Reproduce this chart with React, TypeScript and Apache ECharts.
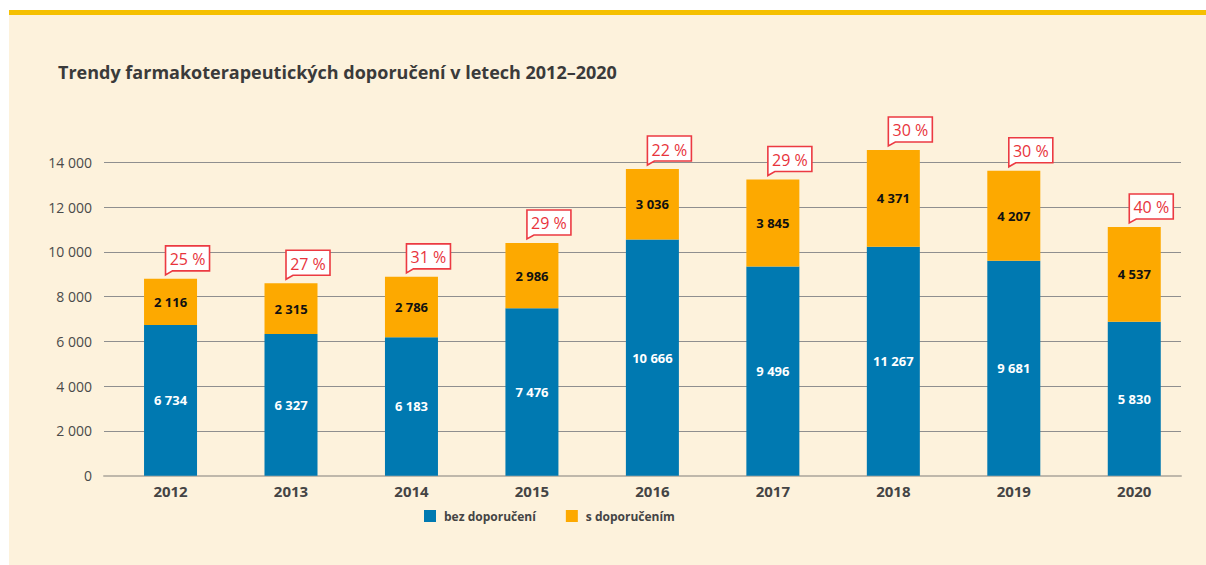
import React, { useEffect, useRef } from "react";
import * as echarts from "echarts";

const categories = ["2012", "2013", "2014", "2015", "2016", "2017", "2018", "2019", "2020"];
// bar heights as drawn in the picture
const bezValues = [6734, 6327, 6183, 7476, 10550, 9350, 10230, 9600, 6880];
const sValues = [2060, 2270, 2700, 2920, 3150, 3880, 4320, 4020, 4230];
// numbers printed on the bars
const bezLabels = ["6 734", "6 327", "6 183", "7 476", "10 666", "9 496", "11 267", "9 681", "5 830"];
const sLabels = ["2 116", "2 315", "2 786", "2 986", "3 036", "3 845", "4 371", "4 207", "4 537"];
const pctLabels = ["25 %", "27 %", "31 %", "29 %", "22 %", "29 %", "30 %", "30 %", "40 %"];
const yTickLabels = ["0", "2 000", "4 000", "6 000", "8 000", "10 000", "12 000", "14 000"];

const FONT = '"Open Sans", "Noto Sans", sans-serif';
const BLUE = "#0079B1";
const ORANGE = "#FDA900";
const RED = "#EC3A42";

export default function App() {
  const ref = useRef<HTMLDivElement>(null);

  useEffect(() => {
    document.body.style.margin = "0";
    if (!ref.current) return;
    const chart = echarts.init(ref.current, undefined, { renderer: "svg" });
    const gridTop = 162.3;
    const gridBottom = 565 - 475.7;
    const option: any = {
      animation: false,
      backgroundColor: "transparent",
      title: {
        text: "Trendy farmakoterapeutických doporučení v letech 2012–2020",
        left: 53,
        top: 58,
        textStyle: { fontFamily: FONT, fontSize: 18, fontWeight: "bold", color: "#3a3a3a" },
      },
      legend: {
        left: 419,
        top: 505,
        icon: "rect",
        itemWidth: 12,
        itemHeight: 12,
        itemGap: 30,
        textStyle: { fontFamily: FONT, fontSize: 12, fontWeight: "bold", color: "#444", padding: [0, 0, 0, 3] },
        data: ["bez doporučení", "s doporučením"],
      },
      grid: [
        { left: 104, right: 25, top: gridTop, bottom: gridBottom, outerBoundsMode: "none", containLabel: false },
        { left: 110.3, right: 11.5, top: gridTop, bottom: gridBottom, outerBoundsMode: "none", containLabel: false },
      ],
      xAxis: [
        {
          type: "category",
          gridIndex: 0,
          data: categories,
          axisLine: { show: true, lineStyle: { color: "#bfb8ab", width: 2 } },
          axisTick: { show: false },
          axisLabel: { show: false },
          splitLine: { show: false },
        },
        {
          type: "category",
          gridIndex: 1,
          data: categories,
          axisLine: { show: false },
          axisTick: { show: false },
          axisLabel: {
            show: true,
            margin: 8,
            fontFamily: FONT,
            fontSize: 15,
            fontWeight: "bold",
            color: "#444",
          },
          splitLine: { show: false },
        },
      ],
      yAxis: [
        {
          type: "value",
          gridIndex: 0,
          min: 0,
          max: 14000,
          interval: 2000,
          axisLine: { show: false },
          axisTick: { show: false },
          axisLabel: {
            margin: 12,
            fontFamily: FONT,
            fontSize: 14,
            color: "#4a4a4a",
            formatter: (v: number) => yTickLabels[Math.round(v / 2000)] ?? "",
          },
          splitLine: { show: true, lineStyle: { color: "#8f8f8f", width: 1 } },
        },
        {
          type: "value",
          gridIndex: 1,
          min: 0,
          max: 14000,
          interval: 2000,
          show: false,
          splitLine: { show: false },
        },
      ],
      series: [
        {
          name: "bez doporučení",
          type: "bar",
          xAxisIndex: 1,
          yAxisIndex: 1,
          stack: "total",
          barWidth: 53,
          clip: false,
          itemStyle: { color: BLUE },
          label: {
            show: true,
            position: "inside",
            formatter: (p: any) => bezLabels[p.dataIndex],
            color: "#fff",
            fontFamily: FONT,
            fontSize: 13,
            fontWeight: "bold",
          },
          data: bezValues,
        },
        {
          name: "s doporučením",
          type: "bar",
          xAxisIndex: 1,
          yAxisIndex: 1,
          stack: "total",
          barWidth: 53,
          clip: false,
          itemStyle: { color: ORANGE },
          label: {
            show: true,
            position: "inside",
            formatter: (p: any) => sLabels[p.dataIndex],
            color: "#111",
            fontFamily: FONT,
            fontSize: 13,
            fontWeight: "bold",
          },
          data: sValues,
        },
        {
          type: "custom",
          xAxisIndex: 1,
          yAxisIndex: 1,
          clip: false,
          z: 10,
          renderItem: (params: any, api: any) => {
            const i = api.value(0);
            const total = api.value(1);
            const p = api.coord([i, total]);
            const w = 44;
            const h = 25;
            const left = p[0] - 5;
            const bottom = p[1] - 8;
            const top = bottom - h;
            return {
              type: "group",
              children: [
                {
                  type: "polygon",
                  shape: {
                    points: [
                      [left, top],
                      [left + w, top],
                      [left + w, bottom],
                      [left + 7, bottom],
                      [left, bottom + 4],
                    ],
                  },
                  style: { fill: "#fff", stroke: RED, lineWidth: 1.6 },
                },
                {
                  type: "text",
                  style: {
                    text: pctLabels[params.dataIndex],
                    x: left + w / 2,
                    y: top + h / 2 + 1,
                    align: "center",
                    verticalAlign: "middle",
                    fill: "#E8333B",
                    fontFamily: FONT,
                    fontSize: 16,
                  },
                },
              ],
            };
          },
          data: categories.map((c, i) => [i, bezValues[i] + sValues[i]]),
        },
      ],
    };
    chart.setOption(option);
    return () => chart.dispose();
  }, []);

  return (
    <div style={{ position: "relative", width: 1206, height: 565, background: "#fff", overflow: "hidden" }}>
      <div style={{ position: "absolute", left: 9, top: 10, width: 1197, height: 5, background: "#F5C000" }} />
      <div style={{ position: "absolute", left: 9, top: 15, width: 1197, height: 550, background: "#FDF2DC" }} />
      <div ref={ref} style={{ position: "absolute", left: 0, top: 0, width: 1206, height: 565 }} />
    </div>
  );
}
